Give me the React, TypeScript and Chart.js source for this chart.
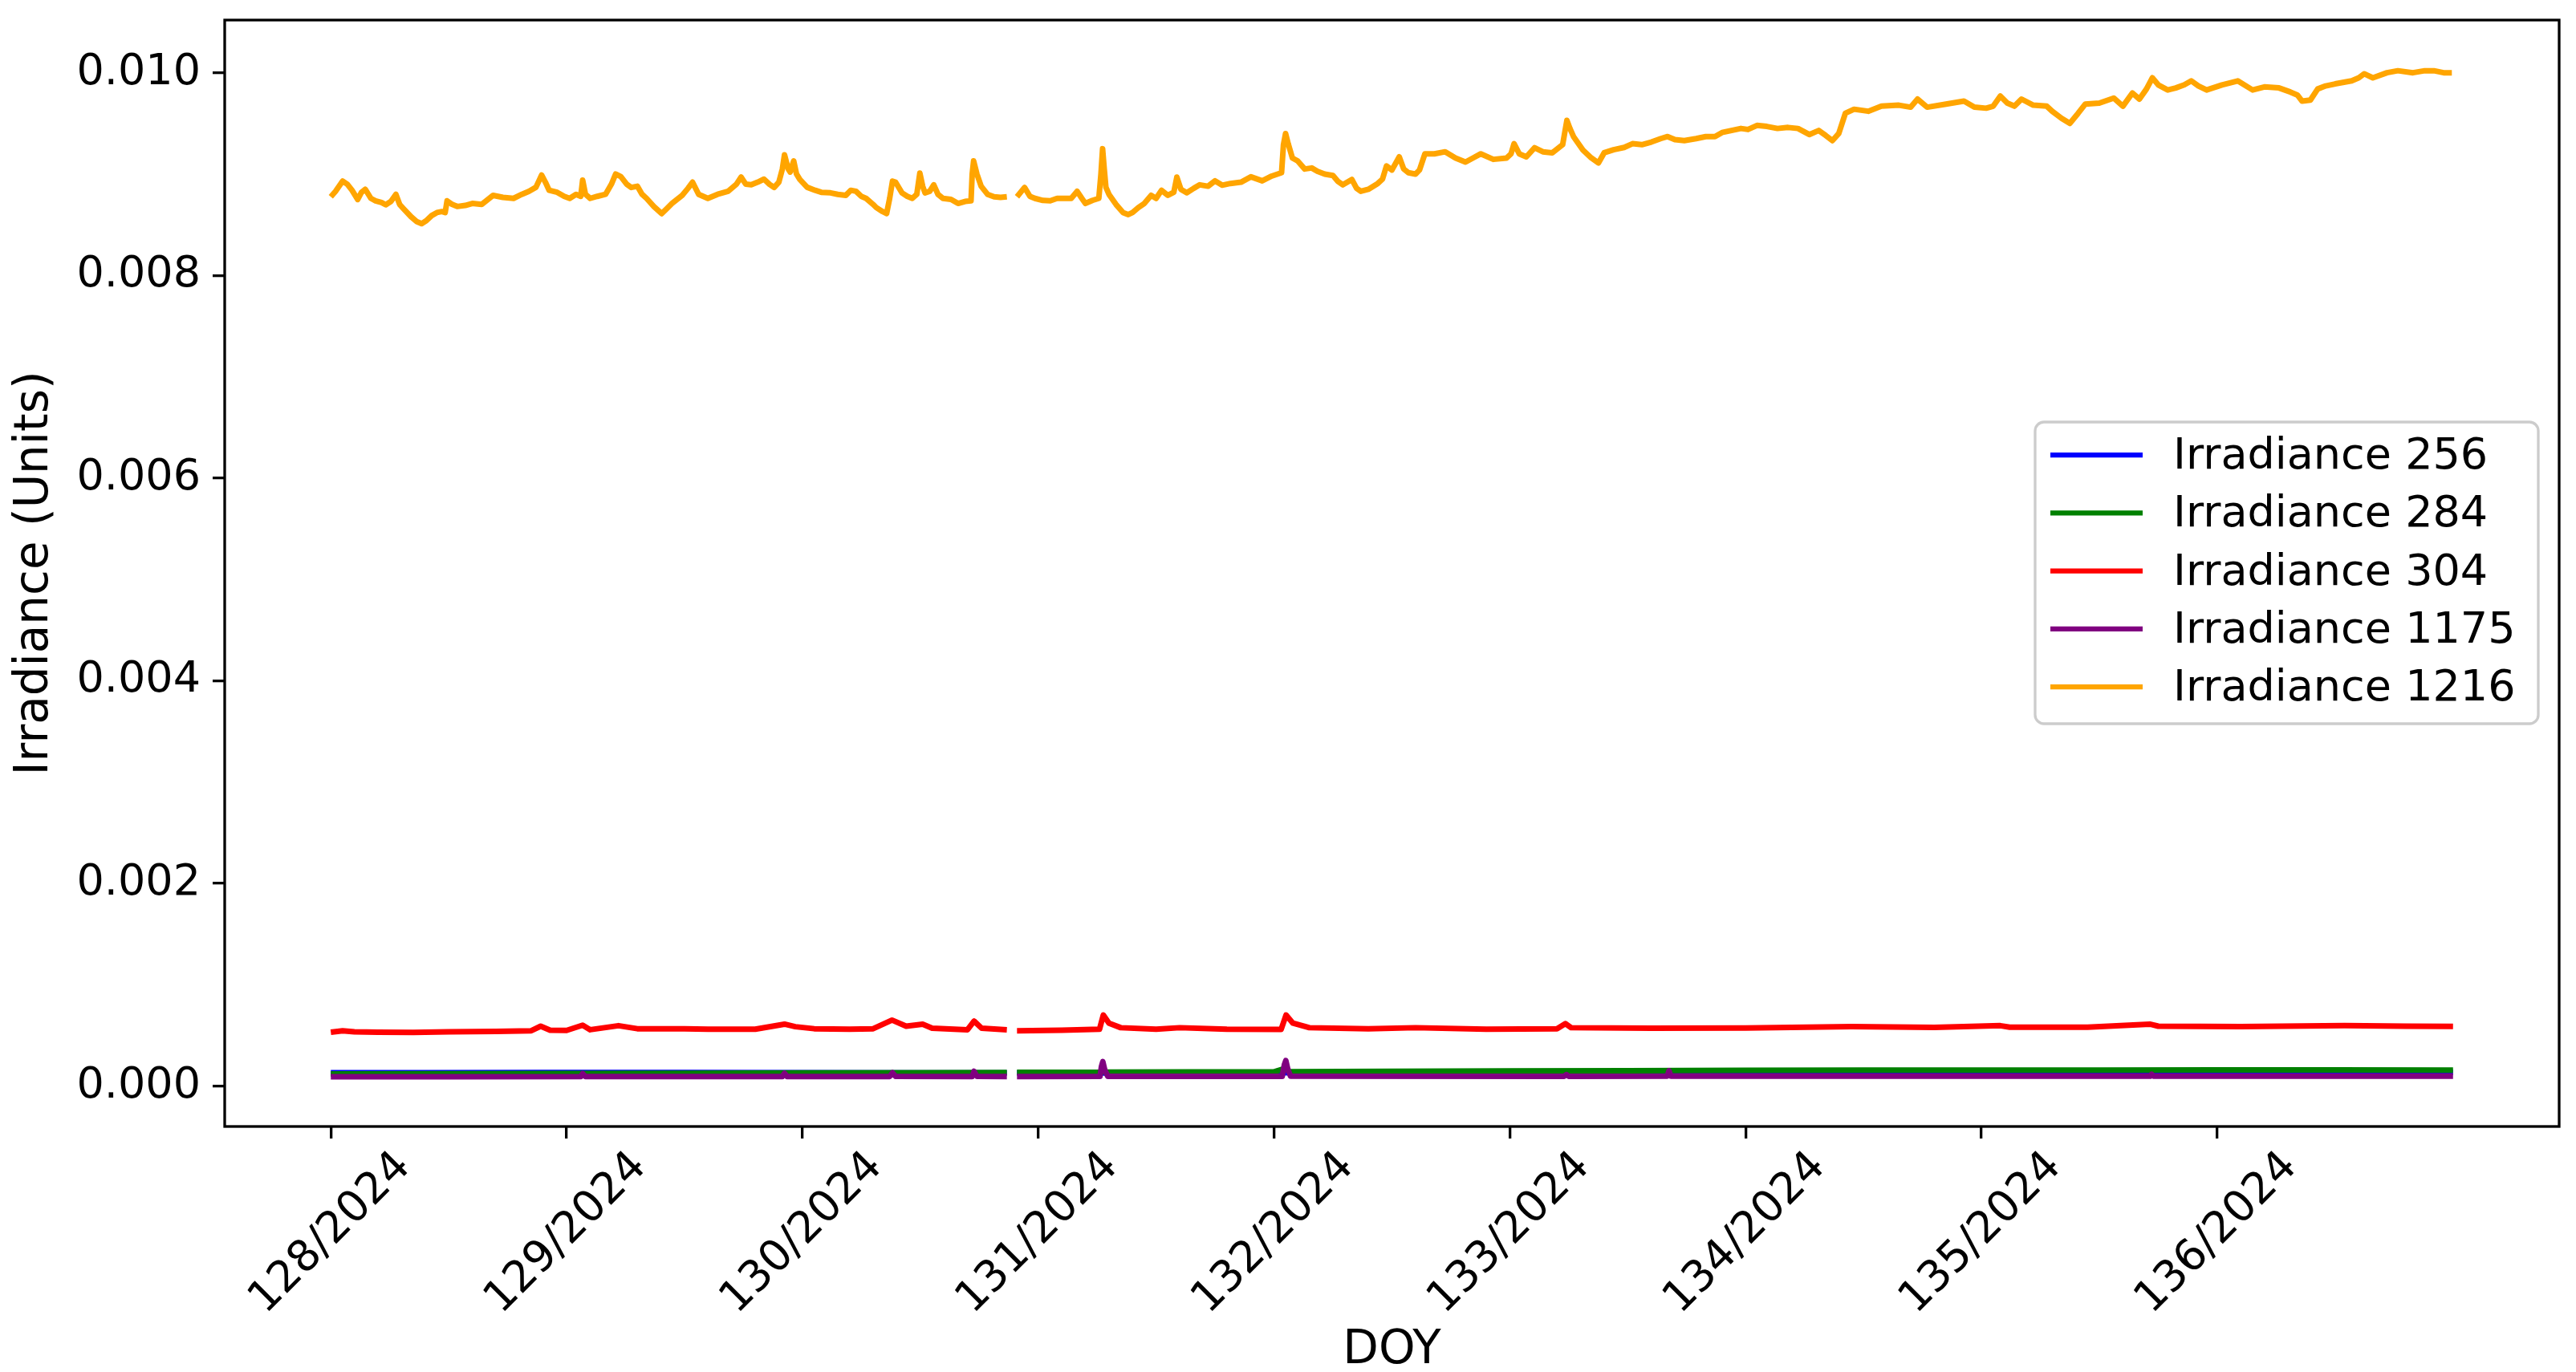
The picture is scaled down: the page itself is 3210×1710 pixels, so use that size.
import React, { useEffect, useRef } from "react";
import { Chart, registerables } from "chart.js";

Chart.register(...registerables);

type Pt = [number, number | null];

const seriesLabels = ["Irradiance 256", "Irradiance 284", "Irradiance 304", "Irradiance 1175", "Irradiance 1216"];
const seriesColors = ["#0000ff", "#008000", "#ff0000", "#800080", "#ffa500"];

const xTickDays = [128, 129, 130, 131, 132, 133, 134, 135, 136];
const xTickLabels = ["128/2024", "129/2024", "130/2024", "131/2024", "132/2024", "133/2024", "134/2024", "135/2024", "136/2024"];
const yTickValues = [0, 0.002, 0.004, 0.006, 0.008, 0.01];
const yTickLabels = ["0.000", "0.002", "0.004", "0.006", "0.008", "0.010"];

const xTitle = "DOY";
const yTitle = "Irradiance (Units)";

// Irradiance 256 (blue)
const irr256: Pt[] = [
  [128.0, 0.000130], [128.4, 0.000131], [128.9, 0.000132], [129.5, 0.000133], [130.0, 0.000131],
  [130.5, 0.000129], [130.867, 0.000128], [130.889, null], [130.91, 0.000128], [131.5, 0.000129],
  [132.0, 0.000130], [133.0, 0.000132], [134.0, 0.000133], [135.0, 0.000134], [136.0, 0.000134],
  [137.0, 0.000134],
];

// Irradiance 284 (green)
const irr284: Pt[] = [
  [128.0, 0.000118], [128.5, 0.000120], [129.0, 0.000122], [129.5, 0.000125], [130.0, 0.000128],
  [130.5, 0.000131], [130.867, 0.000133], [130.889, null], [130.91, 0.000134], [131.268, 0.000135],
  [131.274, 0.000170], [131.285, 0.000136], [132.0, 0.000140], [132.05, 0.000175], [132.065, 0.000141],
  [132.5, 0.000144], [133.0, 0.000148], [133.5, 0.000151], [134.0, 0.000155], [134.5, 0.000156],
  [135.0, 0.000157], [135.5, 0.000157], [136.0, 0.000158], [136.5, 0.000158], [137.0, 0.000157],
];

// Irradiance 304 (red)
const irr304: Pt[] = [
  [128.0, 0.000530], [128.05, 0.000545], [128.1, 0.000535], [128.2, 0.000530], [128.35, 0.000528],
  [128.5, 0.000535], [128.7, 0.000538], [128.85, 0.000545], [128.89, 0.000590], [128.93, 0.000550],
  [129.0, 0.000548], [129.068, 0.000600], [129.1, 0.000555], [129.22, 0.000595], [129.3, 0.000565],
  [129.5, 0.000565], [129.6, 0.000560], [129.8, 0.000560], [129.924, 0.000610], [129.97, 0.000585],
  [130.05, 0.000565], [130.2, 0.000560], [130.3, 0.000565], [130.38, 0.000650], [130.44, 0.000590],
  [130.51, 0.000610], [130.55, 0.000570], [130.7, 0.000555], [130.728, 0.000640], [130.76, 0.000570],
  [130.867, 0.000555], [130.889, null], [130.91, 0.000545], [131.1, 0.000550], [131.26, 0.000560],
  [131.276, 0.000700], [131.30, 0.000620], [131.35, 0.000575], [131.5, 0.000560], [131.6, 0.000575],
  [131.8, 0.000560], [132.03, 0.000558], [132.051, 0.000700], [132.08, 0.000620], [132.15, 0.000575],
  [132.4, 0.000565], [132.6, 0.000575], [132.9, 0.000560], [133.2, 0.000565], [133.236, 0.000615],
  [133.26, 0.000575], [133.6, 0.000570], [134.0, 0.000572], [134.45, 0.000585], [134.8, 0.000578],
  [135.08, 0.000595], [135.12, 0.000580], [135.45, 0.000580], [135.714, 0.000610], [135.75, 0.000590],
  [136.1, 0.000585], [136.54, 0.000595], [136.8, 0.000590], [137.0, 0.000588],
];

// Irradiance 1175 (purple)
const irr1175: Pt[] = [
  [128.0, 0.000090], [128.5, 0.000091], [129.06, 0.000092], [129.068, 0.000122], [129.08, 0.000093],
  [129.5, 0.000093], [129.915, 0.000093], [129.924, 0.000125], [129.935, 0.000093], [130.37, 0.000093],
  [130.382, 0.000130], [130.395, 0.000094], [130.72, 0.000093], [130.728, 0.000145], [130.74, 0.000094],
  [130.867, 0.000093], [130.889, null], [130.91, 0.000092], [131.262, 0.000094], [131.268, 0.000190],
  [131.274, 0.000240], [131.282, 0.000160], [131.295, 0.000095], [132.035, 0.000095], [132.044, 0.000210],
  [132.05, 0.000250], [132.058, 0.000170], [132.07, 0.000096], [133.23, 0.000095], [133.24, 0.000112],
  [133.25, 0.000095], [133.668, 0.000096], [133.675, 0.000150], [133.683, 0.000096], [134.5, 0.000096],
  [135.715, 0.000096], [135.722, 0.000115], [135.73, 0.000097], [137.0, 0.000097],
];

// Irradiance 1216 (orange)
const irr1216: Pt[] = [
  [128.000, 0.008776], [128.020, 0.00883], [128.050, 0.00893], [128.070, 0.00890], [128.090, 0.00884],
  [128.114, 0.008749], [128.130, 0.00882], [128.146, 0.00885], [128.170, 0.00876], [128.190, 0.008736],
  [128.215, 0.00872], [128.233, 0.008697], [128.255, 0.00873], [128.276, 0.00880], [128.292, 0.00870],
  [128.309, 0.008657], [128.340, 0.00858], [128.365, 0.00853], [128.385, 0.00851], [128.405, 0.00854],
  [128.428, 0.008591], [128.450, 0.00862], [128.471, 0.00863], [128.485, 0.00862], [128.493, 0.008736],
  [128.515, 0.00870], [128.536, 0.00868], [128.570, 0.00869], [128.600, 0.00871], [128.640, 0.00870],
  [128.688, 0.00879], [128.730, 0.00877], [128.775, 0.00876], [128.810, 0.00880], [128.840, 0.00883],
  [128.870, 0.00887], [128.894, 0.00899], [128.910, 0.00892], [128.926, 0.00884], [128.960, 0.00882],
  [128.990, 0.00878], [129.013, 0.00876], [129.040, 0.00880], [129.060, 0.00878], [129.068, 0.00894],
  [129.080, 0.00880], [129.100, 0.00876], [129.130, 0.00878], [129.165, 0.00880], [129.190, 0.00890],
  [129.208, 0.00900], [129.230, 0.008975], [129.255, 0.00890], [129.274, 0.008868], [129.300, 0.00888],
  [129.320, 0.00880], [129.339, 0.00876], [129.370, 0.00868], [129.403, 0.00861], [129.425, 0.00866],
  [129.447, 0.00871], [129.490, 0.00879], [129.515, 0.00886], [129.534, 0.00892], [129.560, 0.00880],
  [129.599, 0.00876], [129.640, 0.00880], [129.685, 0.00883], [129.720, 0.00890], [129.740, 0.00897],
  [129.760, 0.00890], [129.783, 0.008894], [129.810, 0.00892], [129.837, 0.00895], [129.860, 0.00890],
  [129.880, 0.008868], [129.900, 0.00892], [129.915, 0.00905], [129.924, 0.00919], [129.940, 0.00905],
  [129.948, 0.00902], [129.963, 0.00913], [129.975, 0.00900], [129.989, 0.008947], [130.020, 0.00887],
  [130.054, 0.00884], [130.080, 0.00882], [130.119, 0.008815], [130.150, 0.00880], [130.184, 0.00879],
  [130.205, 0.00884], [130.227, 0.00883], [130.250, 0.00878], [130.270, 0.00876], [130.300, 0.00870],
  [130.313, 0.00867], [130.340, 0.00863], [130.357, 0.00861], [130.370, 0.00876], [130.382, 0.00893],
  [130.395, 0.00892], [130.422, 0.008815], [130.445, 0.00878], [130.466, 0.00876], [130.485, 0.00880],
  [130.498, 0.00901], [130.510, 0.00888], [130.520, 0.008815], [130.540, 0.00883], [130.557, 0.008894],
  [130.575, 0.00880], [130.596, 0.00876], [130.630, 0.00875], [130.660, 0.00871], [130.690, 0.00873],
  [130.715, 0.008736], [130.720, 0.00900], [130.726, 0.00913], [130.740, 0.00900], [130.758, 0.00888],
  [130.785, 0.00880], [130.813, 0.008776], [130.840, 0.00877], [130.867, 0.008776], [130.889, null],
  [130.910, 0.008776], [130.942, 0.008868], [130.965, 0.00878], [130.986, 0.00876], [131.020, 0.00874],
  [131.051, 0.008736], [131.080, 0.00876], [131.116, 0.00876], [131.140, 0.00876], [131.165, 0.00883],
  [131.185, 0.00876], [131.200, 0.00871], [131.230, 0.00874], [131.257, 0.00876], [131.266, 0.00900],
  [131.273, 0.00925], [131.280, 0.00905], [131.287, 0.00887], [131.300, 0.00880], [131.330, 0.00870],
  [131.360, 0.00862], [131.382, 0.00860], [131.400, 0.00862], [131.425, 0.00867], [131.450, 0.00871],
  [131.479, 0.00879], [131.500, 0.00876], [131.523, 0.00884], [131.550, 0.00879], [131.575, 0.00882],
  [131.588, 0.00897], [131.605, 0.00885], [131.630, 0.008815], [131.660, 0.00886], [131.685, 0.008894],
  [131.720, 0.00888], [131.750, 0.008933], [131.780, 0.00889], [131.815, 0.008907], [131.860, 0.00892],
  [131.902, 0.008973], [131.950, 0.008933], [131.990, 0.00898], [132.032, 0.009013], [132.040, 0.00929],
  [132.049, 0.00940], [132.060, 0.00930], [132.078, 0.009158], [132.100, 0.00913], [132.130, 0.00905],
  [132.160, 0.00906], [132.184, 0.009027], [132.215, 0.00900], [132.250, 0.008986], [132.270, 0.00893],
  [132.292, 0.008894], [132.330, 0.008947], [132.350, 0.00886], [132.368, 0.00883], [132.400, 0.00885],
  [132.440, 0.008907], [132.460, 0.00895], [132.477, 0.00908], [132.500, 0.00904], [132.531, 0.00917],
  [132.550, 0.00905], [132.570, 0.009013], [132.600, 0.00900], [132.617, 0.00904], [132.640, 0.00920],
  [132.680, 0.00920], [132.726, 0.00922], [132.770, 0.009158], [132.812, 0.009118], [132.845, 0.00916],
  [132.877, 0.00920], [132.930, 0.009145], [132.986, 0.009158], [133.005, 0.00920], [133.018, 0.00930],
  [133.040, 0.00920], [133.070, 0.00917], [133.105, 0.00926], [133.140, 0.00922], [133.180, 0.00921],
  [133.224, 0.00929], [133.236, 0.00945], [133.242, 0.00953], [133.255, 0.00945], [133.270, 0.00937],
  [133.310, 0.009237], [133.345, 0.00916], [133.376, 0.00911], [133.400, 0.00921], [133.440, 0.00924],
  [133.485, 0.009263], [133.520, 0.00930], [133.560, 0.00929], [133.600, 0.009316], [133.640, 0.00935],
  [133.669, 0.00937], [133.700, 0.00934], [133.740, 0.00933], [133.790, 0.00935], [133.831, 0.00937],
  [133.870, 0.00937], [133.900, 0.00941], [133.940, 0.00943], [133.980, 0.00945], [134.010, 0.00944],
  [134.048, 0.00948], [134.090, 0.00947], [134.135, 0.00945], [134.180, 0.00946], [134.222, 0.00945],
  [134.270, 0.00939], [134.310, 0.00943], [134.340, 0.00938], [134.368, 0.00933], [134.395, 0.00940],
  [134.423, 0.00960], [134.460, 0.00964], [134.520, 0.00962], [134.576, 0.00967], [134.650, 0.00968],
  [134.700, 0.00966], [134.729, 0.00974], [134.770, 0.00966], [134.850, 0.00969], [134.926, 0.00972],
  [134.970, 0.00966], [135.020, 0.00965], [135.050, 0.00967], [135.080, 0.00977], [135.110, 0.00970],
  [135.140, 0.00967], [135.170, 0.00974], [135.220, 0.00968], [135.277, 0.00967], [135.300, 0.00962],
  [135.340, 0.00955], [135.375, 0.00950], [135.410, 0.00960], [135.440, 0.00969], [135.500, 0.00970],
  [135.561, 0.00975], [135.600, 0.00967], [135.640, 0.00980], [135.670, 0.00974], [135.700, 0.00984],
  [135.718, 0.00992], [135.725, 0.00995], [135.750, 0.00988], [135.790, 0.00983], [135.824, 0.00985],
  [135.860, 0.00988], [135.890, 0.00992], [135.920, 0.00987], [135.955, 0.00983], [136.020, 0.00988],
  [136.087, 0.00992], [136.150, 0.00983], [136.200, 0.00986], [136.262, 0.00985], [136.310, 0.00981],
  [136.340, 0.00978], [136.360, 0.00972], [136.395, 0.00973], [136.426, 0.00984], [136.460, 0.00987],
  [136.500, 0.00989], [136.570, 0.00992], [136.600, 0.00995], [136.623, 0.00999], [136.660, 0.00995],
  [136.720, 0.01000], [136.766, 0.01002], [136.830, 0.01000], [136.880, 0.01002], [136.919, 0.01002],
  [136.960, 0.01000], [136.995, 0.01000],
];

const seriesData: Pt[][] = [irr256, irr284, irr304, irr1175, irr1216];

const FONT = "'DejaVu Sans', 'Liberation Sans', sans-serif";

export default function App() {
  const ref = useRef<HTMLCanvasElement | null>(null);

  useEffect(() => {
    document.body.style.margin = "0";
    const canvas = ref.current;
    if (!canvas) return;

    const framePlugin = {
      id: "mplFrame",
      afterDatasetsDraw(chart: any) {
        const { ctx, chartArea } = chart;
        ctx.save();
        ctx.strokeStyle = "#000000";
        ctx.lineWidth = 3.3;
        ctx.strokeRect(chartArea.left, chartArea.top, chartArea.right - chartArea.left, chartArea.bottom - chartArea.top);
        ctx.restore();
      },
    };

    const legendPlugin = {
      id: "mplLegend",
      afterDraw(chart: any) {
        const ctx = chart.ctx;
        ctx.save();
        const bx = 2536, by = 526, bw = 627, bh = 376;
        ctx.beginPath();
        (ctx as any).roundRect(bx, by, bw, bh, 11);
        ctx.fillStyle = "rgba(255,255,255,0.8)";
        ctx.fill();
        ctx.lineWidth = 3.3;
        ctx.strokeStyle = "#cccccc";
        ctx.stroke();
        const rowY0 = 567;
        const rowDy = 72.3;
        ctx.font = `54px ${FONT}`;
        ctx.textBaseline = "middle";
        ctx.textAlign = "left";
        seriesLabels.forEach((label, i) => {
          const y = rowY0 + i * rowDy;
          ctx.beginPath();
          ctx.moveTo(2555, y);
          ctx.lineTo(2670, y);
          ctx.strokeStyle = seriesColors[i];
          ctx.lineWidth = 6.25;
          ctx.lineCap = "butt";
          ctx.stroke();
          ctx.fillStyle = "#000000";
          ctx.fillText(label, 2708, y + 3);
        });
        ctx.restore();
      },
    };

    const datasets = seriesData.map((pts, i) => ({
      label: seriesLabels[i],
      data: pts.map(([x, y]) => ({ x, y })),
      borderColor: seriesColors[i],
      backgroundColor: seriesColors[i],
      borderWidth: 7,
      pointRadius: 0,
      pointHoverRadius: 0,
      tension: 0,
      spanGaps: false,
      fill: false,
      borderJoinStyle: "round" as const,
      borderCapStyle: "butt" as const,
      order: seriesData.length - i,
    }));

    const chart = new Chart(canvas, {
      type: "line",
      data: { datasets },
      plugins: [framePlugin, legendPlugin],
      options: {
        responsive: false,
        maintainAspectRatio: false,
        devicePixelRatio: 1,
        animation: false,
        events: [],
        layout: { padding: { left: 0, top: 25, right: 21, bottom: 0 } },
        plugins: {
          legend: { display: false },
          tooltip: { enabled: false },
          title: { display: false },
        },
        scales: {
          x: {
            type: "linear",
            min: 127.55,
            max: 137.45,
            afterBuildTicks: (s: any) => {
              s.ticks = xTickDays.map((v) => ({ value: v }));
            },
            afterFit: (s: any) => {
              s.height = 306;
              s.paddingLeft = 0;
              s.paddingRight = 0;
              s.paddingTop = 0;
              s.paddingBottom = 0;
            },
            grid: {
              display: true,
              drawOnChartArea: false,
              drawTicks: true,
              tickLength: 15,
              tickWidth: 3.3,
              tickColor: "#000000",
              lineWidth: 3.3,
              color: "#000000",
            },
            border: { display: false },
            ticks: {
              autoSkip: false,
              minRotation: 45,
              maxRotation: 45,
              labelOffset: 91.4,
              padding: 4,
              color: "#000000",
              font: { family: FONT, size: 54 },
              callback: (_v: any, i: number) => xTickLabels[i],
            },
            title: {
              display: true,
              text: xTitle,
              color: "#000000",
              font: { family: FONT, size: 58, lineHeight: 1.0 },
              padding: { top: 0, bottom: -3 },
            },
          },
          y: {
            type: "linear",
            min: -0.0004,
            max: 0.01052,
            afterBuildTicks: (s: any) => {
              s.ticks = yTickValues.map((v) => ({ value: v }));
            },
            afterFit: (s: any) => {
              s.width = 280;
              s.paddingTop = 0;
              s.paddingBottom = 0;
              s.paddingLeft = 0;
              s.paddingRight = 0;
            },
            grid: {
              display: true,
              drawOnChartArea: false,
              drawTicks: true,
              tickLength: 15,
              tickWidth: 3.3,
              tickColor: "#000000",
              lineWidth: 3.3,
              color: "#000000",
            },
            border: { display: false },
            ticks: {
              padding: 15,
              color: "#000000",
              font: { family: FONT, size: 54 },
              callback: (_v: any, i: number) => yTickLabels[i],
            },
            title: {
              display: true,
              text: yTitle,
              color: "#000000",
              font: { family: FONT, size: 58 },
              padding: { top: 9, bottom: 0 },
            },
          },
        },
      } as any,
    });

    return () => chart.destroy();
  }, []);

  return (
    <canvas
      ref={ref}
      width={3210}
      height={1710}
      style={{ display: "block", width: "3210px", height: "1710px" }}
    />
  );
}
